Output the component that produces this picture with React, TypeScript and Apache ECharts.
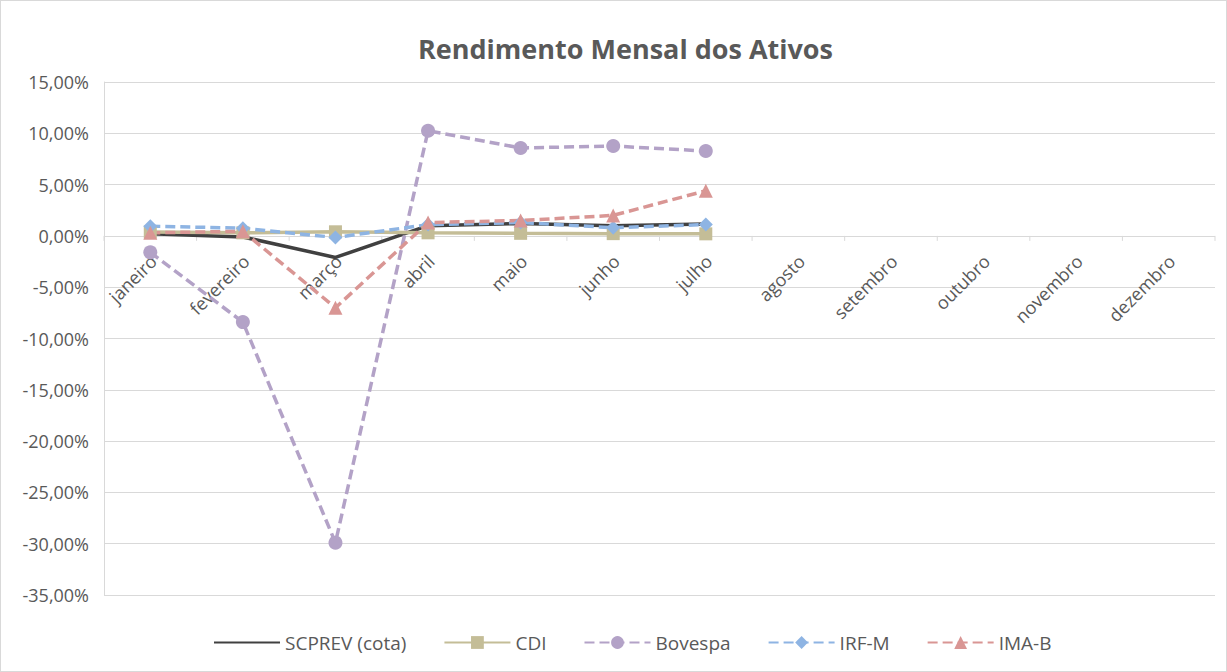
import React, { useEffect, useRef } from "react";
import * as echarts from "echarts";

const months = ["janeiro", "fevereiro", "março", "abril", "maio", "junho", "julho", "agosto", "setembro", "outubro", "novembro", "dezembro"];
const scprev = [0.2, -0.1, -2.1, 1.0, 1.2, 1.0, 1.15, null, null, null, null, null];
const cdi = [0.38, 0.3, 0.4, 0.3, 0.25, 0.22, 0.2, null, null, null, null, null];
const bovespa = [-1.6, -8.4, -29.9, 10.25, 8.57, 8.76, 8.27, null, null, null, null, null];
const irfm = [0.95, 0.75, -0.15, 1.1, 1.3, 0.8, 1.1, null, null, null, null, null];
const imab = [0.3, 0.45, -7.0, 1.3, 1.5, 2.0, 4.4, null, null, null, null, null];

const FONT = "Open Sans";
const TXT = "#595959";
const GRID = "#d9d9d9";

export default function App() {
  const ref = useRef<HTMLDivElement>(null);
  useEffect(() => {
    document.body.style.margin = "0";
    const chart = echarts.init(ref.current!, null, { renderer: "svg" });
    const fmt = (v: number) => v.toFixed(2).replace(".", ",") + "%";
    const mk = (name: string, data: any[], color: string, symbol: string, size: number, dashed: boolean) => ({
      name,
      type: "line",
      data,
      symbol,
      symbolSize: size,
      showSymbol: symbol !== "none",
      lineStyle: { color, width: 3.5, type: dashed ? [10, 5] : "solid" },
      itemStyle: { color },
      emphasis: { disabled: true },
    });
    chart.setOption({
      animation: false,
      textStyle: { fontFamily: FONT },
      title: {
        text: "Rendimento Mensal dos Ativos",
        left: 412,
        top: 29,
        textStyle: { fontFamily: FONT, fontSize: 27, fontWeight: "bold", color: TXT },
      },
      grid: { left: 103, right: 11, top: 81, bottom: 76 },
      xAxis: {
        type: "category",
        data: months,
        boundaryGap: true,
        axisLine: { show: false },
        axisTick: { show: false },
        axisLabel: { show: false },
        splitLine: { show: false },
      },
      yAxis: {
        type: "value",
        min: -35,
        max: 15,
        interval: 5,
        axisLine: { show: true, lineStyle: { color: GRID } },
        axisTick: { show: false },
        axisLabel: { color: TXT, fontSize: 18, fontFamily: FONT, formatter: fmt, margin: 15 },
        splitLine: { lineStyle: { color: GRID, width: 1 } },
      },
      legend: {
        bottom: 14,
        left: 207,
        itemWidth: 66,
        itemHeight: 16,
        itemGap: 37,
        textStyle: { color: TXT, fontSize: 19, fontFamily: FONT },
        data: [
          { name: "SCPREV (cota)", itemStyle: { opacity: 0 } },
          "CDI",
          "Bovespa",
          "IRF-M",
          "IMA-B",
        ],
      },
      series: [
        mk("SCPREV (cota)", scprev, "#404040", "none", 0, false),
        mk("CDI", cdi, "#C4BD97", "rect", 13, false),
        mk("Bovespa", bovespa, "#B3A2C7", "circle", 14, true),
        mk("IRF-M", irfm, "#8EB4E3", "diamond", 14, true),
        mk("IMA-B", imab, "#D99694", "triangle", 14, true),
      ],
    });

    const graphics: any[] = [];
    const px = (i: number) => chart.convertToPixel({ gridIndex: 0 }, [i, 0]) as number[];
    const p0 = px(0);
    const p1 = px(1);
    const step = p1[0] - p0[0];
    const y0 = p0[1];
    for (let k = 0; k <= months.length; k++) {
      const bx = p0[0] - step / 2 + k * step;
      graphics.push({
        type: "line",
        shape: { x1: bx, y1: y0, x2: bx, y2: y0 + 5 },
        style: { stroke: GRID, lineWidth: 1 },
        silent: true,
      });
    }
    months.forEach((m, i) => {
      const p = px(i);
      graphics.push({
        type: "text",
        x: p[0] + 3,
        y: y0 + 22,
        rotation: Math.PI / 4,
        style: {
          text: m,
          fill: TXT,
          font: `18px "${FONT}"`,
          align: "right",
          verticalAlign: "middle",
        },
        silent: true,
      });
    });
    chart.setOption({ graphic: graphics });
    return () => chart.dispose();
  }, []);
  return (
    <div
      ref={ref}
      style={{ width: 1227, height: 672, boxSizing: "border-box", border: "1px solid #d9d9d9", background: "#fff" }}
    />
  );
}
